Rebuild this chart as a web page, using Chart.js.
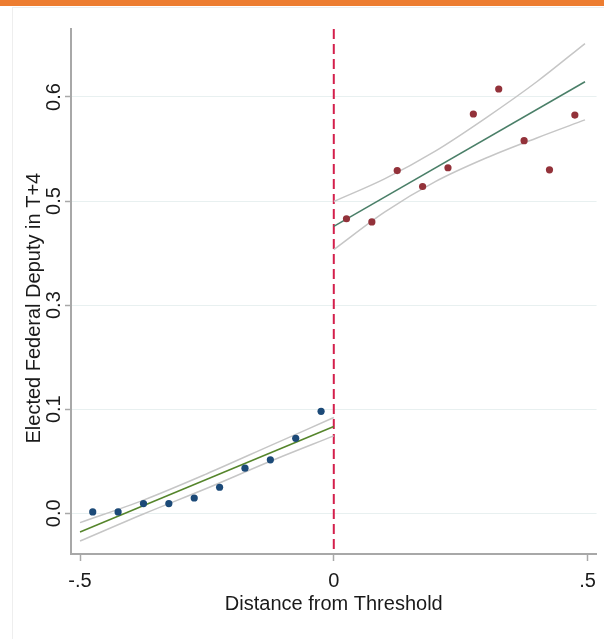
<!DOCTYPE html>
<html>
<head>
<meta charset="utf-8">
<script src="https://cdn.jsdelivr.net/npm/chart.js@4"></script>
<style>
  body { margin: 0; background: #fff; }
  #bar { position: absolute; left: 0; top: 0; width: 604px; height: 6px; background: #ED7D31; }
  #panel { position: absolute; left: 12px; top: 7px; width: 600px; height: 640px; border-left: 1px solid #eeeeee; border-top: 1px solid #eeeeee; }
  #wrap { position: absolute; left: 0; top: 0; width: 604px; height: 639px; }
</style>
</head>
<body>
<div id="bar"></div>
<div id="panel"></div>
<div id="wrap"><canvas id="chart"></canvas></div>
<script>
// bin means, left of the threshold
const binsLeft = [-0.475, -0.425, -0.375, -0.325, -0.275, -0.225, -0.175, -0.125, -0.075, -0.025];
const meansLeft = [0.002, 0.002, 0.014, 0.014, 0.022, 0.0375, 0.065, 0.077, 0.108, 0.147];
// bin means, right of the threshold
const binsRight = [0.025, 0.075, 0.125, 0.175, 0.225, 0.275, 0.325, 0.375, 0.425, 0.475];
const meansRight = [0.4245, 0.420, 0.494, 0.471, 0.498, 0.5755, 0.6115, 0.537, 0.495, 0.574];

// linear fits and 95% CI
const fitLeftX = [-0.5, 0];
const fitLeftY = [-0.027, 0.125];
const ciLeftX = [-0.5, -0.375, -0.25, -0.125, 0];
const ciLeftUpper = [-0.0135, 0.019, 0.057, 0.0975, 0.138];
const ciLeftLower = [-0.040, -0.001, 0.036, 0.075, 0.1115];

const fitRightX = [0, 0.495];
const fitRightY = [0.4134, 0.622];
const ciRightX = [0, 0.1, 0.2, 0.3, 0.4, 0.495];
const ciRightUpper = [0.4494, 0.482, 0.522, 0.570, 0.622, 0.677];
const ciRightLower = [0.380, 0.434, 0.478, 0.512, 0.541, 0.567];

const cutoffX = [0, 0];
const cutoffY = [0.698, -0.0587];

const xTicks = [-0.5, 0, 0.5];
const xTickLabels = ['-.5', '0', '.5'];
const yTicks = [0, 0.15, 0.3, 0.45, 0.6];
const yTickLabels = ['0.0', '0.1', '0.3', '0.5', '0.6'];

const pts = (xs, ys) => xs.map((x, i) => ({ x: x, y: ys[i] }));

Chart.defaults.font.family = "'Liberation Sans', Arial, sans-serif";
Chart.defaults.color = '#1a1a1a';

const lineDs = (data, color, width, order, extra) => Object.assign({
  type: 'line', data: data, borderColor: color, borderWidth: width,
  pointRadius: 0, fill: false, order: order
}, extra || {});

new Chart(document.getElementById('chart'), {
  type: 'scatter',
  data: {
    datasets: [
      { data: pts(binsLeft, meansLeft), backgroundColor: '#1c4a78', pointRadius: 3.6, borderWidth: 0, order: 0 },
      { data: pts(binsRight, meansRight), backgroundColor: '#93323a', pointRadius: 3.6, borderWidth: 0, order: 0 },
      lineDs(pts(fitLeftX, fitLeftY), '#55852b', 1.5, 1),
      lineDs(pts(ciLeftX, ciLeftUpper), '#c6c6c6', 1.5, 2, { cubicInterpolationMode: 'monotone' }),
      lineDs(pts(ciLeftX, ciLeftLower), '#c6c6c6', 1.5, 2, { cubicInterpolationMode: 'monotone' }),
      lineDs(pts(fitRightX, fitRightY), '#4a7f68', 1.5, 1),
      lineDs(pts(ciRightX, ciRightUpper), '#c6c6c6', 1.5, 2, { cubicInterpolationMode: 'monotone' }),
      lineDs(pts(ciRightX, ciRightLower), '#c6c6c6', 1.5, 2, { cubicInterpolationMode: 'monotone' }),
      lineDs(pts(cutoffX, cutoffY), '#d41f4c', 2, 3, { borderDash: [10, 5] })
    ]
  },
  options: {
    responsive: true,
    maintainAspectRatio: false,
    animation: false,
    layout: { padding: { left: 0, top: 29, right: 7, bottom: 0 } },
    plugins: { legend: { display: false }, tooltip: { enabled: false } },
    scales: {
      x: {
        type: 'linear',
        min: -0.5178,
        max: 0.5178,
        afterBuildTicks: s => { s.ticks = xTicks.map(v => ({ value: v })); },
        afterFit: s => { s.height = 85; },
        ticks: {
          padding: 8,
          font: { size: 20 },
          color: '#1a1a1a',
          callback: (v, i) => xTickLabels[i]
        },
        grid: { drawOnChartArea: false, tickColor: '#a8a8a8', tickLength: 7, tickWidth: 1.5 },
        border: { display: true, color: '#a8a8a8', width: 2 },
        title: {
          display: true,
          text: 'Distance from Threshold',
          font: { size: 20 },
          color: '#1a1a1a',
          padding: { top: 0, bottom: 23 }
        }
      },
      y: {
        type: 'linear',
        min: -0.0587,
        max: 0.698,
        afterBuildTicks: s => { s.ticks = yTicks.map(v => ({ value: v })); },
        afterFit: s => { s.width = 71; },
        ticks: {
          padding: -3,
          minRotation: 90,
          maxRotation: 90,
          crossAlign: 'center',
          font: { size: 20 },
          color: '#1a1a1a',
          callback: (v, i) => yTickLabels[i]
        },
        grid: { color: '#e8f0f0', lineWidth: 1, tickColor: '#a8a8a8', tickLength: 6, tickWidth: 1.5 },
        border: { display: true, color: '#a8a8a8', width: 2 },
        title: {
          display: true,
          // trailing spaces push the centred title a little lower, as in the original
          text: 'Elected Federal Deputy in T+4      ',
          font: { size: 20 },
          color: '#1a1a1a',
          padding: { top: 22, bottom: 0 }
        }
      }
    }
  }
});
</script>
</body>
</html>
